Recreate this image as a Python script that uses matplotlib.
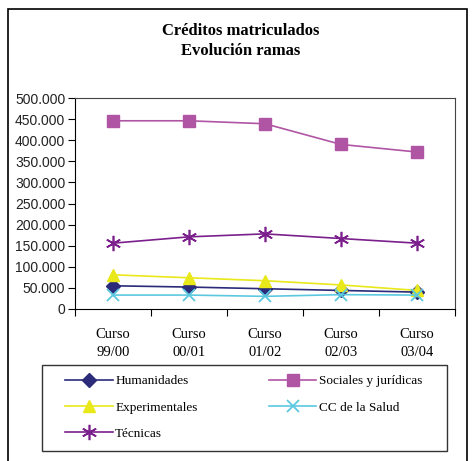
import matplotlib.pyplot as plt
from matplotlib.patches import Rectangle

# ==============================
# DATOS
# ==============================

cursos = ["Curso\n99/00", "Curso\n00/01", "Curso\n01/02", "Curso\n02/03", "Curso\n03/04"]

humanidades = [55000, 52000, 48000, 44000, 40000]
sociales = [446000, 446000, 439000, 390000, 372000]
experimentales = [81000, 74000, 67000, 57000, 44000]
salud = [33000, 33000, 30000, 34000, 33000]
tecnicas = [156000, 171000, 178000, 167000, 156000]

y_ticks = [0, 50000, 100000, 150000, 200000, 250000, 300000, 350000, 400000, 450000, 500000]


def fmt_miles(v):
    return f"{v:,.0f}".replace(",", ".")


# ==============================
# FIGURA
# ==============================

fig = plt.figure(figsize=(4.72, 4.61), dpi=100)
fig.patch.set_facecolor("white")

# marco exterior del grafico
fig.patches.append(Rectangle((8 / 472, -0.05), (467 - 8) / 472, 1.05 - 9 / 461,
                             transform=fig.transFigure, fill=False,
                             edgecolor="black", linewidth=1.2))

# marco de la leyenda
fig.patches.append(Rectangle((42 / 472, 1 - 451 / 461), (447 - 42) / 472, (451 - 365) / 461,
                             transform=fig.transFigure, fill=False,
                             edgecolor="#333333", linewidth=1.0))

ax = fig.add_axes([75 / 472, 1 - 309 / 461, (455 - 75) / 472, (309 - 98) / 461])

x = list(range(len(cursos)))

ax.plot(x, humanidades, color="#2b2b7a", marker="D", markersize=7, lw=1.2,
        label="Humanidades")
ax.plot(x, experimentales, color="#e8e81a", marker="^", markersize=9, lw=1.2,
        label="Experimentales")
ax.plot(x, tecnicas, color="#7b1f8c", marker=(6, 2, 0), markersize=11, mew=1.2, lw=1.2,
        label="Técnicas")
ax.plot(x, sociales, color="#b055a4", marker="s", markersize=9, lw=1.2,
        label="Sociales y jurídicas")
ax.plot(x, salud, color="#5cc8e0", marker="x", markersize=9, mew=1.3, lw=1.2,
        label="CC de la Salud")

ax.set_xlim(-0.5, len(cursos) - 0.5)
ax.set_ylim(0, 500000)

ax.set_yticks(y_ticks)
ax.set_yticklabels([fmt_miles(v) for v in y_ticks], fontfamily="Liberation Sans",
                   fontsize=10, color="#222222")

ax.set_xticks([i + 0.5 for i in range(-1, len(cursos))])
ax.set_xticklabels([])
ax.set_xticks(x, minor=True)
ax.set_xticklabels(cursos, minor=True, fontfamily="Liberation Serif", fontsize=10.5,
                   linespacing=1.45)
ax.tick_params(axis="x", which="minor", length=0, pad=14)
ax.tick_params(axis="x", which="major", length=5, direction="out")
ax.tick_params(axis="y", length=5, direction="out", pad=2)

for side in ["top", "right"]:
    ax.spines[side].set_color("#444444")
    ax.spines[side].set_linewidth(0.8)

fig.text(0.51, 1 - 31 / 461, "Créditos matriculados", ha="center", va="center",
         fontfamily="Liberation Serif", fontweight="bold", fontsize=12)
fig.text(0.51, 1 - 51 / 461, "Evolución ramas", ha="center", va="center",
         fontfamily="Liberation Serif", fontweight="bold", fontsize=12)

leg = fig.legend(loc="upper left", bbox_to_anchor=(65 / 472, 1 - 375 / 461),
                 ncol=2, frameon=False,
                 prop={"family": "Liberation Serif", "size": 9.5},
                 handlelength=3.6, handletextpad=0.2, labelspacing=1.07,
                 borderaxespad=0, borderpad=0, columnspacing=5.4)

fig.savefig("out.png", dpi=100)
